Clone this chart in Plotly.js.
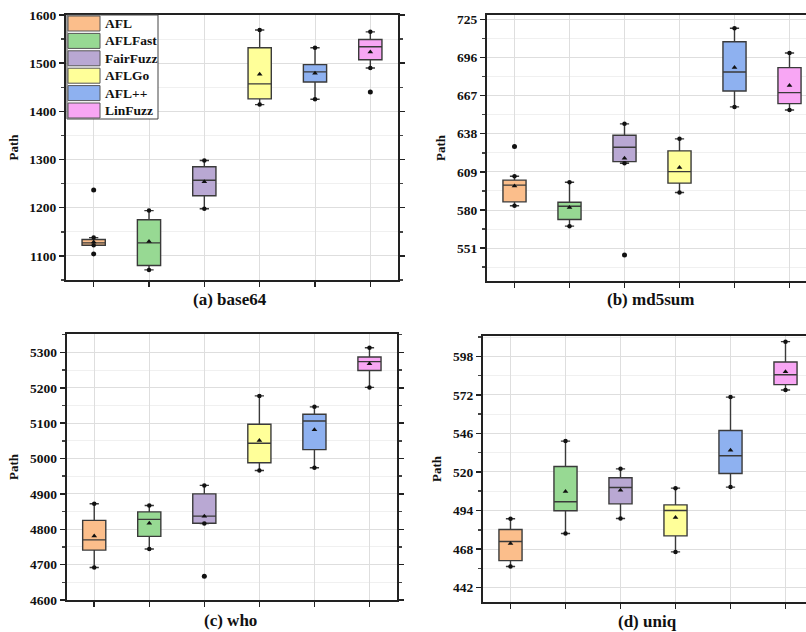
<!DOCTYPE html>
<html>
<head>
<meta charset="utf-8">
<script src="https://cdn.plot.ly/plotly-3.0.1.min.js"></script>
<style>
html,body{margin:0;padding:0;overflow:hidden;background:#fff;}
#chart{width:835px;height:632px;}
</style>
</head>
<body>
<div id="chart"></div>
<script>
// ---------- data ----------
const tools = ['AFL', 'AFLFast', 'FairFuzz', 'AFLGo', 'AFL++', 'LinFuzz'];
const colors = ['#FBBE8B', '#97D993', '#B9A8D3', '#FFFF99', '#8EB1F0', '#F8A6F4'];
const panelTitles = ['(a) base64', '(b) md5sum', '(c) who', '(d) uniq'];
const yTitle = 'Path';

const base64_q1     = [1122, 1080, 1225, 1426, 1461, 1507];
const base64_median = [1127, 1127, 1257, 1457, 1482, 1534];
const base64_q3     = [1134, 1175, 1285, 1532, 1497, 1549];
const base64_lower  = [1122, 1071, 1198, 1414, 1425, 1490];
const base64_upper  = [1138, 1194, 1298, 1569, 1532, 1565];
const base64_mean   = [1129, 1130, 1254, 1477, 1479, 1523];
const base64_outliers = [[1237, 1104], [], [], [], [], [1440]];

const md5sum_q1     = [586.2, 572.8, 616.8, 600.4, 670.5, 660.9];
const md5sum_median = [598.9, 582.9, 627.7, 609.2, 685.0, 669.3];
const md5sum_q3     = [602.7, 585.9, 636.9, 625.0, 708.0, 688.3];
const md5sum_lower  = [583.2, 567.7, 615.6, 593.3, 658.4, 656.1];
const md5sum_upper  = [605.7, 601.1, 645.5, 634.1, 718.2, 699.4];
const md5sum_mean   = [598.3, 581.9, 619.4, 612.3, 688.3, 674.6];
const md5sum_outliers = [[628.2], [], [545.7], [], [], []];

const who_q1     = [4741, 4780, 4817, 4988, 5025, 5249];
const who_median = [4770, 4828, 4837, 5043, 5106, 5274];
const who_q3     = [4825, 4849, 4900, 5097, 5125, 5287];
const who_lower  = [4692, 4744, 4816, 4966, 4974, 5201];
const who_upper  = [4872, 4867, 4924, 5177, 5146, 5313];
const who_mean   = [4781, 4817, 4837, 5051, 5081, 5268];
const who_outliers = [[], [], [4667], [], [], []];

const uniq_q1     = [460.2, 493.8, 498.5, 476.9, 519.0, 578.9];
const uniq_median = [473.1, 499.9, 509.5, 494.0, 530.9, 585.6];
const uniq_q3     = [481.2, 523.7, 516.1, 497.8, 548.0, 594.2];
const uniq_lower  = [456.2, 478.5, 488.6, 466.1, 509.8, 575.3];
const uniq_upper  = [488.4, 540.8, 522.1, 509.1, 570.5, 607.9];
const uniq_mean   = [471.7, 506.8, 507.7, 489.3, 534.7, 587.6];
const uniq_outliers = [[], [], [], [], [], []];

const yTicks0 = [1100, 551, 4600, 442];
const yDticks = [100, 29, 100, 26];
const yRanges = [[1050, 1600], [526, 728.3], [4600, 5352], [432.3, 611.7]];

// ---------- build ----------
const W = 835, H = 632;
const FONT = 'Liberation Serif, Times New Roman, serif';
const panels = [
  {q1: base64_q1, med: base64_median, q3: base64_q3, lo: base64_lower, hi: base64_upper, mean: base64_mean, out: base64_outliers},
  {q1: md5sum_q1, med: md5sum_median, q3: md5sum_q3, lo: md5sum_lower, hi: md5sum_upper, mean: md5sum_mean, out: md5sum_outliers},
  {q1: who_q1, med: who_median, q3: who_q3, lo: who_lower, hi: who_upper, mean: who_mean, out: who_outliers},
  {q1: uniq_q1, med: uniq_median, q3: uniq_q3, lo: uniq_lower, hi: uniq_upper, mean: uniq_mean, out: uniq_outliers}
];
// panel geometry in pixels: [left, right, top, bottom]
const geom = [[66, 398, 15, 280], [487, 817, 15, 281], [66.7, 397, 334, 600], [483, 813, 336, 602]];
const titlePos = [[230, 299], [650, 299], [230, 620], [647, 621]];

const traces = [];
const layout = {
  width: W, height: H,
  margin: {l: 0, r: 0, t: 0, b: 0},
  paper_bgcolor: '#fff', plot_bgcolor: '#fff',
  showlegend: false,
  font: {family: FONT, size: 13, color: '#111', weight: 'bold'},
  annotations: [], shapes: []
};

panels.forEach((p, k) => {
  const xa = 'x' + (k === 0 ? '' : k + 1), ya = 'y' + (k === 0 ? '' : k + 1);
  tools.forEach((t, i) => {
    traces.push({
      type: 'box', name: t, xaxis: xa, yaxis: ya,
      x: [i + 1], q1: [p.q1[i]], median: [p.med[i]], q3: [p.q3[i]],
      lowerfence: [p.lo[i]], upperfence: [p.hi[i]],
      width: 0.42, whiskerwidth: 0.4, boxpoints: false,
      fillcolor: colors[i], line: {color: '#3a3a3a', width: 1.4},
      hoverinfo: 'skip'
    });
  });
  const xs = tools.map((t, i) => i + 1);
  // whisker end dots
  traces.push({type: 'scatter', mode: 'markers', xaxis: xa, yaxis: ya,
    x: xs.concat(xs), y: p.lo.concat(p.hi),
    marker: {symbol: 'circle', size: 4.5, color: '#111'}, hoverinfo: 'skip'});
  // means
  traces.push({type: 'scatter', mode: 'markers', xaxis: xa, yaxis: ya,
    x: xs, y: p.mean, marker: {symbol: 'triangle-up', size: 5, color: '#111'}, hoverinfo: 'skip'});
  // outliers
  const ox = [], oy = [];
  p.out.forEach((arr, i) => arr.forEach(v => { ox.push(i + 1); oy.push(v); }));
  traces.push({type: 'scatter', mode: 'markers', xaxis: xa, yaxis: ya,
    x: ox, y: oy, marker: {symbol: 'circle', size: 5, color: '#111'}, hoverinfo: 'skip'});

  const g = geom[k];
  layout['xaxis' + (k === 0 ? '' : k + 1)] = {
    domain: [g[0] / W, g[1] / W], anchor: ya, range: [0.5, 6.5],
    tickvals: xs, showticklabels: false, ticks: 'outside', ticklen: 5, tickwidth: 1.5, tickcolor: '#222',
    showgrid: true, gridcolor: '#dedede', gridwidth: 1, zeroline: false,
    showline: true, linecolor: '#222', linewidth: 2, mirror: true, fixedrange: true
  };
  layout['yaxis' + (k === 0 ? '' : k + 1)] = {
    domain: [1 - g[3] / H, 1 - g[2] / H], anchor: xa, range: yRanges[k],
    tick0: yTicks0[k], dtick: yDticks[k], ticks: 'outside', ticklen: 5, tickwidth: 1.5, tickcolor: '#222',
    minor: {tick0: yTicks0[k], dtick: yDticks[k] / 2, ticks: 'outside', ticklen: 3, tickcolor: '#444', showgrid: true, gridcolor: '#f0f0f0'},
    tickfont: {family: FONT, size: 13.5, weight: 'bold', color: '#111'},
    showgrid: true, gridcolor: '#dedede', gridwidth: 1, zeroline: false,
    showline: true, linecolor: '#222', linewidth: 2, mirror: 'ticks', fixedrange: true,
    title: {text: yTitle, font: {family: FONT, size: 13, weight: 'bold', color: '#111'}, standoff: 8}
  };
  layout.annotations.push({
    text: panelTitles[k], xref: 'paper', yref: 'paper',
    x: titlePos[k][0] / W, y: 1 - titlePos[k][1] / H, xanchor: 'center', yanchor: 'middle',
    showarrow: false, font: {family: FONT, size: 17, weight: 'bold', color: '#111'}
  });
});

// legend drawn inside panel (a)
const legL = 67, legR = 158, legT = 15, legB = 119;
layout.shapes.push({type: 'rect', xref: 'paper', yref: 'paper', layer: 'above',
  x0: legL / W, x1: legR / W, y0: 1 - legB / H, y1: 1 - legT / H,
  fillcolor: '#fff', line: {color: '#444', width: 1}});
tools.forEach((t, i) => {
  const cy = 23.5 + i * 17.4;
  layout.shapes.push({type: 'rect', xref: 'paper', yref: 'paper', layer: 'above',
    x0: 68 / W, x1: 100 / W, y0: 1 - (cy + 7.5) / H, y1: 1 - (cy - 7.5) / H,
    fillcolor: colors[i], line: {color: '#555', width: 1}});
  layout.annotations.push({text: t, xref: 'paper', yref: 'paper', x: 103 / W, y: 1 - cy / H,
    xanchor: 'left', yanchor: 'middle', showarrow: false,
    font: {family: FONT, size: 13.5, weight: 'bold', color: '#111'}});
});

Plotly.newPlot('chart', traces, layout, {displayModeBar: false, staticPlot: true});
</script>
</body>
</html>
